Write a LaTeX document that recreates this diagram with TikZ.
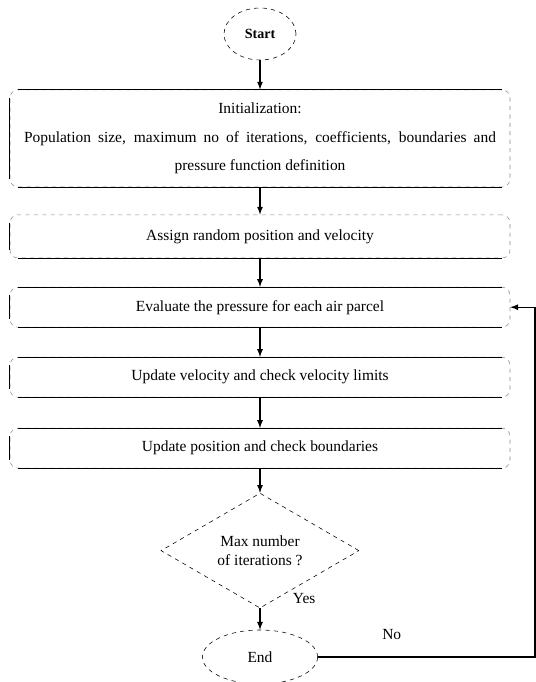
\documentclass[tikz,border=0pt]{standalone}
\usepackage{fontspec}
\setmainfont{Liberation Serif}
\usetikzlibrary{shapes.geometric,arrows,positioning,calc}

\begin{document}
\begin{tikzpicture}[
    >=latex,
    node distance=1.75cm,
    font=\fontsize{11}{13.5}\selectfont,
    term/.style={ellipse, draw, dashed, minimum width=1.8cm, minimum height=1.3cm},
    proc/.style={rectangle, rounded corners=0.2cm, draw=black!45, dashed, minimum width=12.5cm, minimum height=1cm},
    dec/.style={diamond, draw, dashed, minimum width=4.95cm, minimum height=2.58cm, align=center, inner sep=0pt},
    link/.style={->, line width=0.9pt}
]

% Frame
\useasboundingbox (0,0) rectangle (13.4,-17.05);

% Start
\node[term, font=\bfseries] (start) at (6.5,-0.85) {Start};

% Steps
\node[proc, below of=start, node distance=2.61cm, minimum height=2.43cm, align=center, font=\fontsize{11}{20.5}\selectfont] (init) {Initialization:\\\makebox[11.8cm][s]{Population size, maximum no of iterations, coefficients, boundaries and}\\pressure function definition};
\node[proc, below of=init, node distance=2.45cm, minimum height=1.08cm] (assign) {Assign random position and velocity};
\node[proc, below of=assign, node distance=1.77cm] (eval) {Evaluate the pressure for each air parcel};
\node[proc, below of=eval] (vel) {Update velocity and check velocity limits};
\node[proc, below of=vel, node distance=1.775cm] (pos) {Update position and check boundaries};

% Decision and end
\node[dec, below of=pos, node distance=2.56cm] (check) {Max number\\of iterations ?};
\node[term, below of=check, node distance=2.66cm, minimum width=2.88cm, minimum height=1.35cm] (end) {End};

% Solid box edges
\foreach \n in {init,assign,eval,vel,pos}
  \draw ([yshift=-0.2cm]\n.north west) -- ([yshift=0.2cm]\n.south west)
        ([xshift=0.2cm]\n.south west) -- ([xshift=-0.2cm]\n.south east);
\foreach \n in {init,eval,vel,pos}
  \draw ([xshift=0.2cm]\n.north west) -- ([xshift=-0.2cm]\n.north east);

% Arrows - main path
\draw[link] (start) -- (init);
\draw[link] (init) -- (assign);
\draw[link] (assign) -- (eval);
\draw[link] (eval) -- (vel);
\draw[link] (vel) -- (pos);
\draw[link] (pos) -- (check);
\draw[link] (check) -- (end);

% Loop back
\draw[link] (end.east) -| node[pos=0.17, above=0.3cm] {No} ($(eval.east)+(0.62,0)$) -- (eval.east);

% Labels
\node[above right=0cm and 0.7cm of check.south] (yes) {Yes};

\end{tikzpicture}
\end{document}
